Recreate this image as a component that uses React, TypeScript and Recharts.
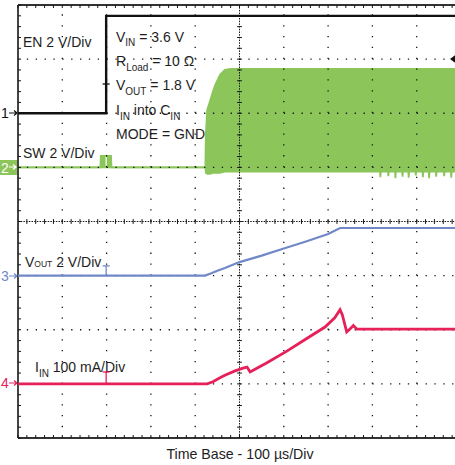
import React from "react";
import {
  ComposedChart,
  Line,
  Area,
  XAxis,
  YAxis,
  ReferenceLine,
  Customized,
} from "recharts";

// ---- axis scale (time in µs, vertical in divisions 0..8) ----
const timeDomain = [0, 1000];
const divDomain = [0, 8];
const majorTimeTicks = [100, 200, 300, 400, 600, 700, 800, 900];
const majorDivTicks = [1, 2, 3, 5, 6, 7];
const minorTimeTicks = Array.from({ length: 51 }, (_, i) => i * 20);
const minorDivTicks = Array.from({ length: 41 }, (_, i) => +(i * 0.2).toFixed(2));

// ---- channel 1: EN (divisions, offset 6) ----
const enTime = [0, 199, 199, 1000];
const enLevel = [6.0, 6.0, 7.8, 7.8];

// ---- channel 2: SW envelope (divisions, offset 5) ----
const swTime = [
  0, 186, 187, 210, 211, 423, 424, 427, 433, 440, 445, 456, 467, 480, 600, 700,
  817, 818, 819, 835, 836, 837, 851, 852, 853, 867, 868, 869, 881, 882, 883,
  897, 898, 899, 913, 914, 915, 927, 928, 929, 943, 944, 945, 961, 962, 963,
  977, 978, 979, 994, 995, 996, 1000,
];
const swLow = [
  5.0, 5.0, 5.0, 5.0, 5.0, 5.0, 4.9, 4.88, 4.88, 4.9, 4.9, 4.9, 4.92, 4.92, 4.92, 4.92,
  4.92, 4.82, 4.92, 4.92, 4.84, 4.92, 4.92, 4.8, 4.92, 4.92, 4.83, 4.92, 4.92, 4.81, 4.92,
  4.92, 4.85, 4.92, 4.92, 4.82, 4.92, 4.92, 4.8, 4.92, 4.92, 4.83, 4.92, 4.92, 4.84, 4.92,
  4.92, 4.81, 4.92, 4.92, 4.85, 4.92, 4.92,
];
const swHigh = [
  5.0, 5.0, 5.21, 5.21, 5.0, 5.0, 5.6, 6.06, 6.21, 6.4, 6.52, 6.71, 6.8, 6.82, 6.82, 6.82,
  6.82, 6.82, 6.82, 6.82, 6.82, 6.82, 6.82, 6.82, 6.82, 6.82, 6.82, 6.82, 6.82, 6.82, 6.82,
  6.82, 6.82, 6.82, 6.82, 6.82, 6.82, 6.82, 6.82, 6.82, 6.82, 6.82, 6.82, 6.82, 6.82, 6.82,
  6.82, 6.82, 6.82, 6.82, 6.82, 6.82, 6.82,
];

// ---- channel 3: VOUT (divisions, offset 3) ----
const voutTime = [0, 422, 435, 450, 467, 500, 550, 600, 650, 700, 727, 1000];
const voutLevel = [3.0, 3.0, 3.04, 3.09, 3.14, 3.25, 3.37, 3.5, 3.63, 3.77, 3.88, 3.88];

// ---- channel 4: IIN (divisions, offset 1) ----
const iinTime = [
  0, 427, 440, 455, 467, 490, 508, 517, 524, 535, 560, 606, 650, 693, 715, 727, 732,
  742, 750, 757, 765, 1000,
];
const iinLevel = [
  1.0, 1.0, 1.04, 1.11, 1.16, 1.24, 1.29, 1.31, 1.22, 1.27, 1.38, 1.6, 1.83, 2.05, 2.22,
  2.37, 2.28, 1.96, 2.02, 2.08, 2.01, 2.01,
];

// trigger marker position (time) and marker tops per channel
const markerTime = 199;
const enMarkerTop = 6.54;
const voutMarkerTop = 3.18;
const iinMarkerTop = 1.22;

const enData = enTime.map((t, i) => ({ t, v: enLevel[i] }));
const swData = swTime.map((t, i) => ({ t, band: [swLow[i], swHigh[i]] }));
const voutData = voutTime.map((t, i) => ({ t, v: voutLevel[i] }));
const iinData = iinTime.map((t, i) => ({ t, v: iinLevel[i] }));

const BLACK = "#111111";
const GREEN = "#8cc65b";
const BLUE = "#7088c8";
const RED = "#e6215a";
const GRID = "#151515";
const FONT = "'Liberation Sans', Arial, Helvetica, sans-serif";

const Annotations = () => (
  <g fontFamily={FONT} fill="#1e1e1e" fontSize={14}>
    <text x={23} y={47}>EN 2 V/Div</text>
    <text x={116} y={42}>
      V<tspan fontSize={10} dy={4}>IN</tspan>
      <tspan dy={-4}> = 3.6 V</tspan>
    </text>
    <text x={116} y={66}>
      R<tspan fontSize={10} dy={5}>Load</tspan>
      <tspan dy={-5}> = 10 Ω</tspan>
    </text>
    <text x={116} y={90}>
      V<tspan fontSize={10} dy={5}>OUT</tspan>
      <tspan dy={-5}> = 1.8 V</tspan>
    </text>
    <text x={116} y={115}>
      I<tspan fontSize={10} dy={5}>IN</tspan>
      <tspan dy={-5}> into C</tspan>
      <tspan fontSize={10} dy={5}>IN</tspan>
    </text>
    <text x={116} y={139}>MODE = GND</text>
    <text x={23} y={158}>SW 2 V/Div</text>
    <text x={25} y={267}>
      V<tspan fontSize={8.5}>OUT</tspan>
      <tspan> 2 V/Div</tspan>
    </text>
    <text x={35} y={372}>
      I<tspan fontSize={10} dy={5}>IN</tspan>
      <tspan dy={-5}> 100 mA/Div</tspan>
    </text>
    <text x={240} y={459} fontSize={14.2} textAnchor="middle">
      Time Base - 100 µs/Div
    </text>

    {/* channel reference markers */}
    <text x={1} y={118} fill={BLACK} fontSize={14}>1</text>
    <path d="M9 113 H17 M14 110.5 L17 113 L14 115.5" stroke={BLACK} strokeWidth={1.2} fill="none" />

    <rect x={0} y={160} width={17} height={15} fill={GREEN} />
    <text x={1} y={173} fill="#ffffff" fontSize={14}>2</text>
    <path d="M9 167 H16 M13 164.5 L16 167 L13 169.5" stroke="#ffffff" strokeWidth={1.2} fill="none" />

    <text x={1} y={281} fill={BLUE} fontSize={14}>3</text>
    <path d="M9 276 H17 M14 273.5 L17 276 L14 278.5" stroke={BLUE} strokeWidth={1.2} fill="none" />

    <text x={1} y={388} fill={RED} fontSize={14}>4</text>
    <path d="M9 383 H17 M14 380.5 L17 383 L14 385.5" stroke={RED} strokeWidth={1.2} fill="none" />

    {/* trigger level marker on right edge */}
    <polygon points="450,59 456,54.5 456,63.5" fill={BLACK} />
  </g>
);

export default function App() {
  const tickX = 6.8; // ~3 px in time units
  const tickY = 0.055; // ~3 px in division units
  const cX = 5.5;
  const cY = 0.045;
  return (
    <div
      style={{
        position: "absolute",
        left: 0,
        top: 0,
        width: 455,
        height: 465,
        overflow: "hidden",
        background: "#ffffff",
      }}
    >
      <ComposedChart
        width={470}
        height={465}
        margin={{ top: 5, right: 9, bottom: 27, left: 18 }}
      >
        <XAxis dataKey="t" type="number" domain={timeDomain} allowDataOverflow hide />
        <YAxis type="number" domain={divDomain} allowDataOverflow hide />

        <Area
          data={swData}
          dataKey="band"
          type="linear"
          stroke={GREEN}
          strokeWidth={1.8}
          fill={GREEN}
          fillOpacity={1}
          isAnimationActive={false}
          dot={false}
          activeDot={false}
        />

        {/* dotted major graticule */}
        {majorTimeTicks.map((t) => (
          <ReferenceLine
            key={"gx" + t}
            x={t}
            stroke={GRID}
            strokeWidth={1.3}
            strokeDasharray="1.3 9.53"
          />
        ))}
        {majorDivTicks.map((d) => (
          <ReferenceLine
            key={"gy" + d}
            y={d}
            stroke={GRID}
            strokeWidth={1.3}
            strokeDasharray="1.3 7.56"
          />
        ))}

        {/* center axes */}
        <ReferenceLine x={500} stroke={GRID} strokeWidth={1} strokeDasharray="1.5 1.2" />
        <ReferenceLine y={4} stroke={GRID} strokeWidth={1} strokeDasharray="1.5 1.2" />
        {minorTimeTicks.map((t) => (
          <ReferenceLine
            key={"cx" + t}
            segment={[
              { x: t, y: 4 - cY },
              { x: t, y: 4 + cY },
            ]}
            stroke={GRID}
            strokeWidth={1}
          />
        ))}
        {minorDivTicks.map((d) => (
          <ReferenceLine
            key={"cy" + d}
            segment={[
              { x: 500 - cX, y: d },
              { x: 500 + cX, y: d },
            ]}
            stroke={GRID}
            strokeWidth={1}
          />
        ))}

        {/* border with inner minor ticks */}
        <ReferenceLine x={0} stroke="#444" strokeWidth={2} />
        <ReferenceLine y={8} stroke="#333" strokeWidth={2} />
        <ReferenceLine y={0} stroke="#333" strokeWidth={2} />
        {minorTimeTicks.map((t) => (
          <ReferenceLine
            key={"bt" + t}
            segment={[
              { x: t, y: 0 },
              { x: t, y: tickY },
            ]}
            stroke={GRID}
            strokeWidth={1}
          />
        ))}
        {minorTimeTicks.map((t) => (
          <ReferenceLine
            key={"tt" + t}
            segment={[
              { x: t, y: 8 },
              { x: t, y: 8 - tickY },
            ]}
            stroke={GRID}
            strokeWidth={1}
          />
        ))}
        {minorDivTicks.map((d) => (
          <ReferenceLine
            key={"lt" + d}
            segment={[
              { x: 0, y: d },
              { x: tickX, y: d },
            ]}
            stroke={GRID}
            strokeWidth={1}
          />
        ))}

        {/* traces */}
        <Line
          data={enData}
          dataKey="v"
          type="linear"
          stroke={BLACK}
          strokeWidth={2.4}
          dot={false}
          activeDot={false}
          isAnimationActive={false}
        />
        <Line
          data={voutData}
          dataKey="v"
          type="linear"
          stroke={BLUE}
          strokeWidth={2.2}
          dot={false}
          activeDot={false}
          isAnimationActive={false}
        />
        <Line
          data={iinData}
          dataKey="v"
          type="linear"
          stroke={RED}
          strokeWidth={2.8}
          dot={false}
          activeDot={false}
          isAnimationActive={false}
        />

        {/* trigger point markers */}
        <ReferenceLine
          segment={[
            { x: markerTime, y: 6.0 },
            { x: markerTime, y: enMarkerTop },
          ]}
          stroke={BLACK}
          strokeWidth={1.3}
        />
        <ReferenceLine
          segment={[
            { x: markerTime - 8, y: enMarkerTop },
            { x: markerTime + 8, y: enMarkerTop },
          ]}
          stroke={BLACK}
          strokeWidth={1.3}
        />
        <ReferenceLine
          segment={[
            { x: markerTime, y: 5.03 },
            { x: markerTime, y: 5.19 },
          ]}
          stroke="#ffffff"
          strokeWidth={1.2}
        />
        <ReferenceLine
          segment={[
            { x: markerTime, y: 3.0 },
            { x: markerTime, y: voutMarkerTop },
          ]}
          stroke={BLUE}
          strokeWidth={1.3}
        />
        <ReferenceLine
          segment={[
            { x: markerTime - 8, y: voutMarkerTop },
            { x: markerTime + 8, y: voutMarkerTop },
          ]}
          stroke={BLUE}
          strokeWidth={1.3}
        />
        <ReferenceLine
          segment={[
            { x: markerTime, y: 1.0 },
            { x: markerTime, y: iinMarkerTop },
          ]}
          stroke={RED}
          strokeWidth={1.3}
        />
        <ReferenceLine
          segment={[
            { x: markerTime - 8, y: iinMarkerTop },
            { x: markerTime + 8, y: iinMarkerTop },
          ]}
          stroke={RED}
          strokeWidth={1.3}
        />

        <Customized component={Annotations} />
      </ComposedChart>
    </div>
  );
}
